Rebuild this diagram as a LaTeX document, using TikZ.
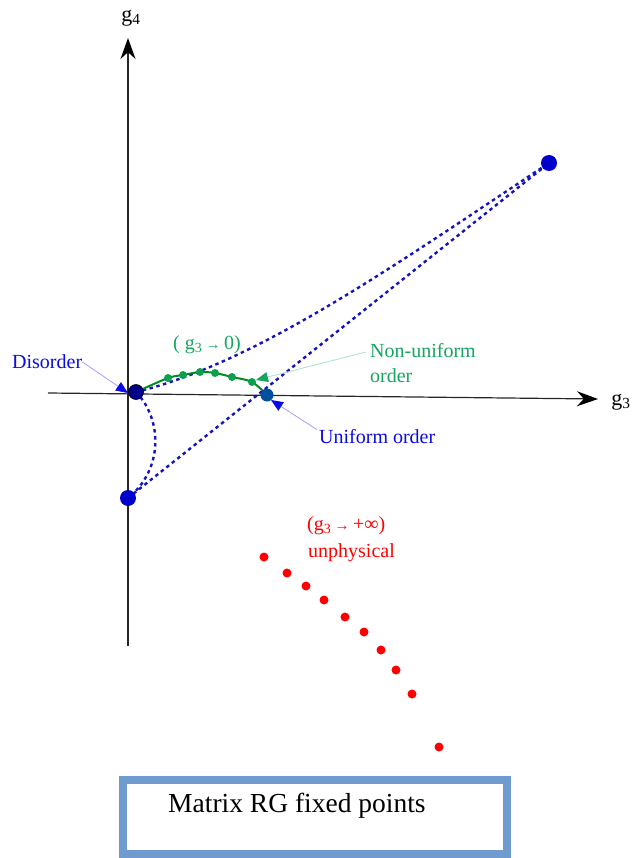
\documentclass[tikz,border=0pt]{standalone}
\usepackage{fontspec}
\setmainfont{Liberation Serif}
\usetikzlibrary{arrows.meta}
\pgfdeclarelayer{bg}
\pgfsetlayers{bg,main}
\definecolor{dotblue}{RGB}{20,20,190}
\definecolor{ptblue}{RGB}{0,0,205}
\definecolor{navy}{RGB}{0,0,140}
\definecolor{uniblue}{RGB}{0,80,160}
\definecolor{txtblue}{RGB}{10,10,230}
\definecolor{txtgreen}{RGB}{20,165,95}
\definecolor{curvegreen}{RGB}{0,140,30}
\definecolor{dotgreen}{RGB}{10,160,80}
\definecolor{paleblue}{RGB}{160,160,255}
\definecolor{palegreen}{RGB}{170,225,200}
\definecolor{boxblue}{RGB}{112,155,207}
\tikzset{
  axisline/.style={line width=1.2pt, black!85, -{Stealth[length=21pt,width=15pt,color=black]}},
  flow/.style={dotblue, line width=2.4pt, dash pattern=on 3.5pt off 3.5pt},
  bigpt/.style={circle, fill=ptblue, inner sep=0pt, minimum size=16pt},
  gdot/.style={circle, fill=dotgreen, inner sep=0pt, minimum size=8pt},
  rdot/.style={circle, fill=red, inner sep=0pt, minimum size=9pt},
  lbl/.style={font=\fontsize{20}{25}\selectfont, inner sep=0pt},
  bluepointer/.style={line width=0.8pt, draw=paleblue, -{Triangle[length=12pt,width=10pt,fill=txtblue,color=txtblue]}},
  greenpointer/.style={line width=0.8pt, draw=palegreen, -{Triangle[length=12pt,width=10pt,fill=txtgreen,color=txtgreen]}},
}
\begin{document}
\begin{tikzpicture}[x=1pt,y=-1pt]
\useasboundingbox (0,0) rectangle (631,858);
% axes
\coordinate (xs) at (48,393);
\coordinate (xe) at (598,399);
\coordinate (ys) at (128,646);
\coordinate (ye) at (128,38);
\draw[axisline] (xs) -- (xe);
\draw[axisline] (ys) -- (ye);
\node[font=\fontsize{22}{24}\selectfont, inner sep=0pt] (g3) at (621,402) {g\textsubscript{3}};
\node[font=\fontsize{22}{24}\selectfont, inner sep=0pt] (g4) at (131,18) {g\textsubscript{4}};
% fixed points
\node[bigpt, fill=navy, draw=black, line width=0.6pt, minimum size=15pt] (dis) at (136,392) {};
\node[bigpt, fill=uniblue, minimum size=13pt] (uni) at (267,395) {};
\node[bigpt] (low) at (128,498) {};
\node[bigpt] (ur) at (549,163) {};
\begin{pgfonlayer}{bg}
% flows
\draw[flow] (dis.center) .. controls (260,362) and (405,258) .. (ur.center);
\draw[flow] (low.center) -- (ur.center);
\draw[flow] (dis.center) .. controls (163,420) and (163,470) .. (low.center);
% green curve
\draw[curvegreen, line width=2pt] plot[smooth] coordinates {(136,392) (168,378) (183,375) (200,372) (215,373) (232,377) (252,382) (267,395)};
\end{pgfonlayer}
\foreach \p [count=\i] in {(168,378),(183,375),(200,372),(215,373),(232,377),(252,382)}
  \node[gdot] (gd\i) at \p {};
% labels
\node[lbl, text=txtblue, anchor=west] (tdis) at (12,362) {Disorder};
\node[lbl, text=txtblue, anchor=west] (tuni) at (319,437) {Uniform order};
\node[lbl, text=txtgreen, anchor=north west, align=left] (tnon) at (370,343) {Non-uniform\\order};
\node[lbl, text=txtgreen, anchor=west] (tg0) at (173,345) {( g\textsubscript{3}\,{\fontsize{15}{15}\selectfont →}\,0)};
\node[lbl, text=red, anchor=west] (tinf) at (307,526) {(g\textsubscript{3}\,{\fontsize{15}{15}\selectfont →}\,+∞)};
\node[lbl, text=red, anchor=west] (tunph) at (308,553) {unphysical};
% pointers
\coordinate (adis) at (128,393);
\coordinate (anon) at (256,380);
\coordinate (auni) at (271,400);
\coordinate (snon) at (366,352);
\draw[bluepointer] (tdis.east) -- (adis);
\draw[greenpointer] (snon) -- (anon);
\draw[bluepointer] ([xshift=-2pt]tuni.north west) -- (auni);
% red dots
\foreach \p [count=\i] in {(264,557),(287,573),(306,586),(324,600),(345,617),(364,632),(381,650),(396,670),(412,694),(439,747)}
  \node[rdot] (r\i) at \p {};
% box
\draw[boxblue, line width=8pt] (123,780) rectangle (507,854);
\node[font=\fontsize{27.5}{30}\selectfont, inner sep=0pt, anchor=base west] (title) at (168,812) {Matrix RG fixed points};
\end{tikzpicture}
\end{document}
